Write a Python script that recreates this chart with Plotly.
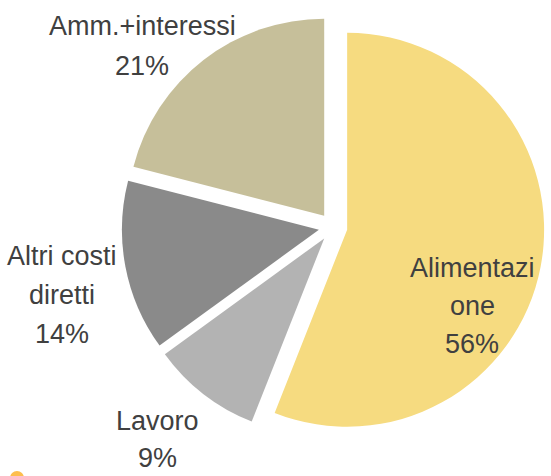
import plotly.graph_objects as go

# Cost shares (%)
categories = ["Alimentazione", "Lavoro", "Altri costi diretti", "Amm.+interessi"]
values = [56, 9, 14, 21]
# Text shown for each category, one entry per printed line (percent appended as last line)
display_lines = [["Alimentazi", "one"], ["Lavoro"], ["Altri costi", "diretti"], ["Amm.+interessi"]]
colors = ["#F6DB80", "#B3B3B3", "#8A8A8A", "#C6BF9A"]

W, H = 551, 476
FONT = "Liberation Sans, Arial, sans-serif"
FONT_SIZE = 27
TEXT_COLOR = "#404040"

fig = go.Figure(
    go.Pie(
        labels=categories,
        values=values,
        sort=False,
        direction="clockwise",
        rotation=0,
        pull=0.073,
        marker=dict(colors=colors, line=dict(width=0)),
        textinfo="none",
        hoverinfo="label+percent",
        domain=dict(x=[0.2207, 0.9881], y=[0.079, 0.967]),
        showlegend=False,
    )
)

# Label placement in pixels: horizontal centre, baseline of first line, line spacing
label_pos = [(472, 277, 38), (157, 430, 37), (62, 265, 39), (142, 35, 40)]
total = sum(values)
for lines, v, (px, base, step) in zip(display_lines, values, label_pos):
    pct = round(100 * v / total)
    for k, line in enumerate(lines + [f"{pct}%"]):
        cy = base + k * step - 0.35 * FONT_SIZE
        fig.add_annotation(
            x=px / W, y=1 - cy / H, xref="paper", yref="paper",
            text=line, showarrow=False,
            xanchor="center", yanchor="middle", align="center",
            font=dict(family=FONT, size=FONT_SIZE, color=TEXT_COLOR),
        )

# small marker partially visible at the lower-left edge
fig.add_shape(
    type="circle", xref="paper", yref="paper",
    x0=10 / W, x1=24 / W, y0=1 - 485 / H, y1=1 - 471 / H,
    fillcolor="#FDBE4E", line=dict(width=0),
)

fig.update_layout(
    width=W, height=H,
    margin=dict(l=0, r=0, t=0, b=0),
    paper_bgcolor="white", plot_bgcolor="white",
)

fig.write_html("out.html")
